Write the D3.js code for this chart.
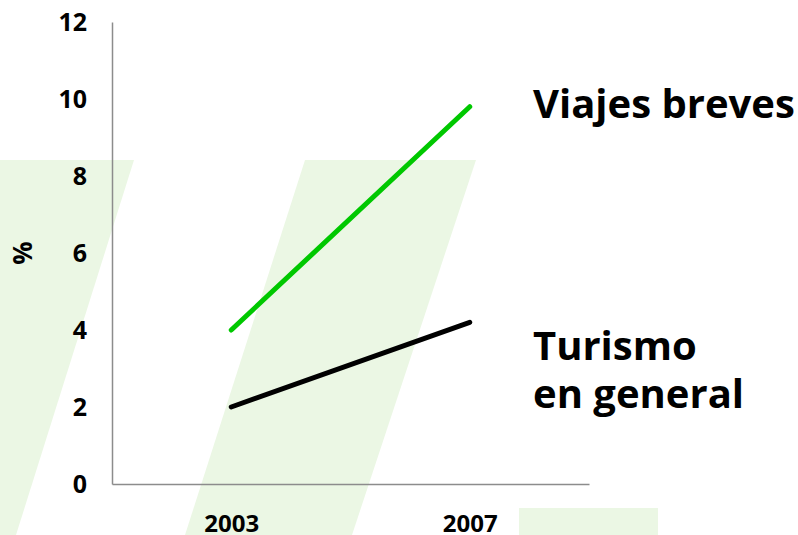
<!DOCTYPE html>
<html>
<head>
<meta charset="utf-8">
<script src="https://cdn.jsdelivr.net/npm/d3@7"></script>
<style>
  html, body { margin: 0; padding: 0; background: #fff; }
  svg { display: block; font-family: "Open Sans", "Noto Sans", sans-serif; }
</style>
</head>
<body>
<div id="chart"></div>
<script>
var years      = ["2003", "2007"];
var viajes     = [4.0, 9.8];
var turismo    = [2.0, 4.2];
var yTicks     = [0, 2, 4, 6, 8, 10, 12];
var seriesName = ["Viajes breves", ["Turismo", "en general"]];

var width  = 798;
var height = 535;

var svg = d3.select("#chart").append("svg")
  .attr("width", width)
  .attr("height", height);

// background decoration: slanted light green bands
var bg = svg.append("g").attr("fill", "#ebf7e4");
var bands = [
  [[-37, 160], [134, 160], [16, 535], [-155, 535]],
  [[305, 160], [476, 160], [352, 535], [185, 535]]
];
bands.forEach(function (b) {
  bg.append("path").attr("d", "M" + b.join("L") + "Z");
});
bg.append("rect").attr("x", 519).attr("y", 508).attr("width", 139).attr("height", 27);

var x = d3.scalePoint().domain(years).range([112, 589]).padding(0.5);
var y = d3.scaleLinear().domain([0, 12]).range([484, 22]);

// y axis
var yAxis = svg.append("g")
  .attr("transform", "translate(112,0)")
  .call(d3.axisLeft(y).tickValues(yTicks).tickSize(0).tickSizeOuter(0).tickPadding(25));
yAxis.select(".domain").attr("stroke", "#8c8c8c").attr("stroke-width", 1.5);
yAxis.selectAll("text")
  .attr("font-size", 25).attr("font-weight", "bold").attr("fill", "#000")
  .attr("font-family", "Open Sans");

// x axis
var xAxis = svg.append("g")
  .attr("transform", "translate(0,484)")
  .call(d3.axisBottom(x).tickSize(0).tickSizeOuter(0));
xAxis.select(".domain").attr("stroke", "#8c8c8c").attr("stroke-width", 1.5);
xAxis.selectAll("text")
  .attr("y", 48).attr("dy", 0)
  .attr("font-size", 24).attr("font-weight", "bold").attr("fill", "#000")
  .attr("font-family", "Open Sans");

svg.append("text")
  .attr("transform", "translate(32,253) rotate(-90)")
  .attr("text-anchor", "middle")
  .attr("font-size", 26).attr("font-weight", "bold")
  .text("%");

// lines
var line = d3.line()
  .x(function (d, i) { return x(years[i]); })
  .y(function (d) { return y(d); });

svg.append("path").datum(viajes)
  .attr("d", line).attr("fill", "none")
  .attr("stroke", "#00c800").attr("stroke-width", 5).attr("stroke-linecap", "round");

svg.append("path").datum(turismo)
  .attr("d", line).attr("fill", "none")
  .attr("stroke", "#000").attr("stroke-width", 5).attr("stroke-linecap", "round");

// series labels
svg.append("text")
  .attr("x", 533).attr("y", 118)
  .attr("font-size", 40).attr("font-weight", "bold")
  .text(seriesName[0]);

seriesName[1].forEach(function (s, i) {
  svg.append("text")
    .attr("x", 533).attr("y", 360 + i * 48)
    .attr("font-size", 40).attr("font-weight", "bold")
    .text(s);
});
</script>
</body>
</html>
